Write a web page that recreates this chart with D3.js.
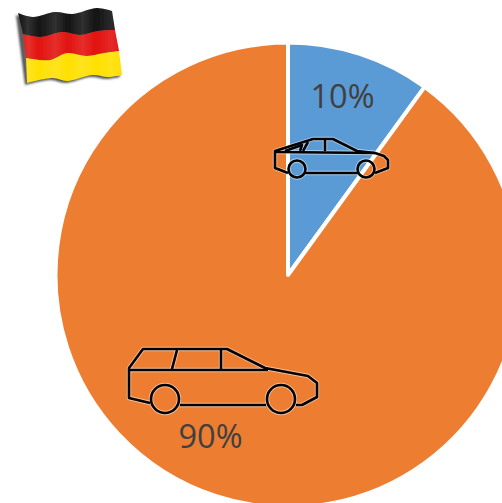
<!DOCTYPE html>
<html><head><meta charset="utf-8">
<script src="https://cdn.jsdelivr.net/npm/d3@7"></script>
<style>html,body{margin:0;padding:0;background:#fff;overflow:hidden}svg{display:block}</style>
</head><body><svg id="c" width="502" height="503"></svg>
<script>
const categories = ["Sedan", "Station wagon"];
const values = [10, 90];
const labels = ["10%", "90%"];
const colors = ["#5B9BD5", "#ED7D31"];

const svg = d3.select("#c");
const cx = 288, cy = 275, R = 232.5;
const arc = d3.arc().innerRadius(0).outerRadius(R);
const pie = d3.pie().sort(null).value(d => d)(values);
const color = d3.scaleOrdinal(categories, colors);

svg.append("g").attr("transform", `translate(${cx},${cy})`)
  .selectAll("path").data(pie).join("path")
  .attr("d", arc)
  .attr("fill", (d, i) => color(categories[i]))
  .attr("stroke", "#fff").attr("stroke-width", 4).attr("stroke-linejoin", "round");

// Icons: flag
const defs = svg.append("defs");
defs.append("filter").attr("id", "soft").append("feGaussianBlur").attr("stdDeviation", 0.7);
defs.append("filter").attr("id", "shadow").append("feGaussianBlur").attr("stdDeviation", 1.2);
const sheen = defs.append("linearGradient").attr("id", "sheen");
[[0, 0], [.1, .13], [.2, 0], [.36, .12], [.48, 0], [.62, .12], [.75, 0], [.9, .1], [1, 0]].forEach(([o, a]) =>
  sheen.append("stop").attr("offset", o).attr("stop-color", "#fff").attr("stop-opacity", a));

const edges = [
  [[18, 13], [33, 17], [55, 12], [73, 14], [97, 8], [112, 11]],
  [[23, 34], [40, 37], [63, 32], [80, 35], [98, 31], [115, 30]],
  [[26, 58], [50, 60], [67, 53], [87, 56], [104, 53], [119, 51]],
  [[27, 83], [53, 78], [67, 81], [93, 75], [108, 77], [122, 75]]
];
const flagColors = ["#141414", "#E2120F", "#FFE000"];
const curve = d3.line().curve(d3.curveCatmullRom);
const band = (a, b) => curve(a) + "L" + curve(b.slice().reverse()).slice(1) + "Z";
const flag = svg.append("g").attr("filter", "url(#soft)");
flag.append("path").attr("d", band(edges[0].map(([x, y]) => [x - 2, y + 2]), edges[3].map(([x, y]) => [x - 2, y + 2])))
  .attr("fill", "#555").attr("filter", "url(#shadow)");
flagColors.forEach((c, i) => flag.append("path").attr("d", band(edges[i], edges[i + 1])).attr("fill", c));
flag.append("path").attr("d", band(edges[0], edges[3])).attr("fill", "url(#sheen)");

// Icons: cars
function car(lines, wheels) {
  const g = svg.append("g").attr("fill", "none").attr("stroke-linejoin", "round");
  [["#fff", 4.4, .5], ["#000", 2.6, 1]].forEach(([s, w, o]) => {
    const l = g.append("g").attr("stroke", s).attr("stroke-width", w).attr("stroke-opacity", o);
    lines.forEach(p => l.append("path").attr("d", d3.line()(p)));
    wheels.forEach(([x, y, r]) => l.append("circle").attr("cx", x).attr("cy", y).attr("r", r));
  });
}
car([
  [[288, 173], [275, 168], [275, 151], [313, 139], [333, 139], [357, 151], [375, 153], [384, 156], [388, 160], [388, 168], [375, 173]],
  [[305, 173], [358, 173]],
  [[275, 152], [375, 153]],
  [[285, 151], [302, 145], [300, 151]],
  [[303, 151], [308, 142]],
  [[325, 139], [325, 151]]
], [[297, 169, 8.5], [366, 169, 8.5]]);
car([
  [[150, 403], [129, 398], [129, 368], [143, 349], [227, 349], [265, 368], [308, 376], [317, 383], [317, 397], [302, 405], [296, 405]],
  [[180, 405], [266, 405]],
  [[129, 370], [268, 370]],
  [[177, 350], [172, 369]],
  [[221, 350], [221, 369]]
], [[165, 399, 14], [281, 399, 14]]);

// Labels
const labelPos = [[342.5, 108], [210.5, 448]];
svg.selectAll("text.l").data(labels).join("text").attr("class", "l")
  .attr("x", (d, i) => labelPos[i][0]).attr("y", (d, i) => labelPos[i][1])
  .attr("text-anchor", "middle").attr("font-family", "'Open Sans', sans-serif")
  .attr("font-size", 32.5).attr("fill", "#404040").text(d => d);
</script></body></html>
